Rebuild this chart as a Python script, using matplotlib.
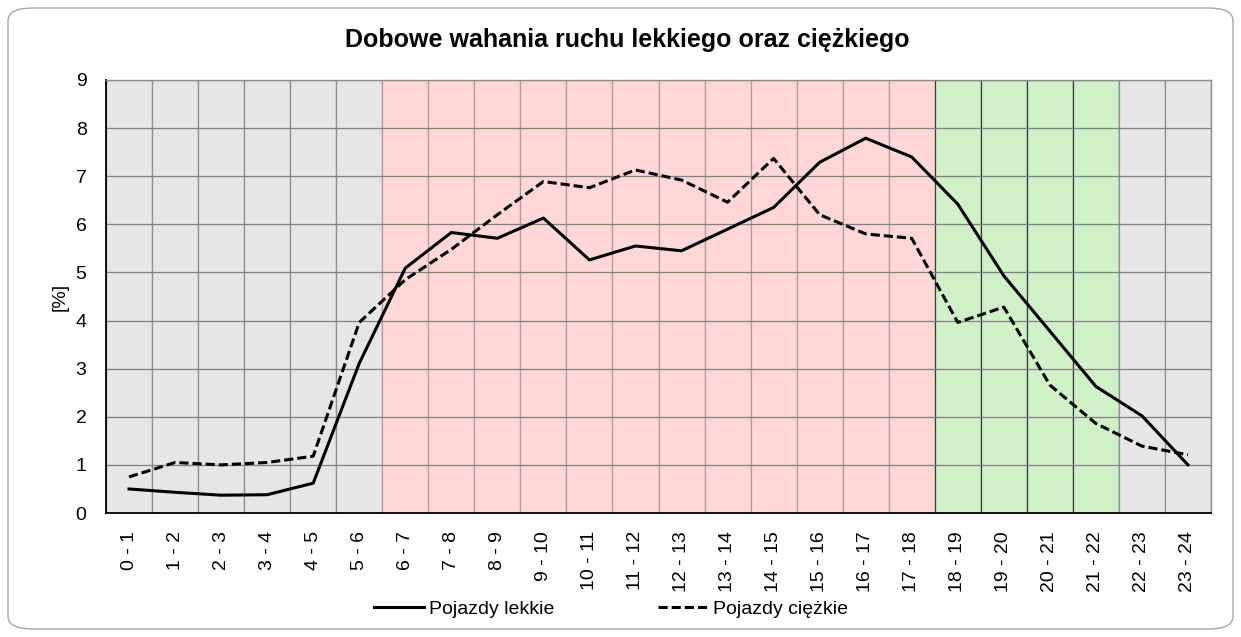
import matplotlib
matplotlib.use("Agg")
import matplotlib.pyplot as plt
from matplotlib.patches import FancyBboxPatch
from matplotlib.lines import Line2D

plt.rcParams['font.family'] = ['Liberation Sans', 'DejaVu Sans']

categories = [f"{h} - {h+1}" for h in range(24)]
light = [0.50, 0.43, 0.37, 0.38, 0.62, 3.11, 5.09, 5.83, 5.71, 6.13, 5.26, 5.55,
         5.45, 5.90, 6.35, 7.29, 7.79, 7.40, 6.42, 4.93, 3.78, 2.63, 2.02, 1.00]
heavy = [0.75, 1.05, 1.00, 1.05, 1.18, 3.96, 4.85, 5.48, 6.20, 6.89, 6.76, 7.13,
         6.92, 6.46, 7.37, 6.20, 5.80, 5.71, 3.96, 4.28, 2.66, 1.86, 1.39, 1.21]
# background band per hour: night / day / evening
bands = ['n'] * 6 + ['d'] * 12 + ['e'] * 4 + ['n'] * 2
band_fill = {'n': '#e6e6e6', 'd': '#ffd7d7', 'e': '#d0f0c8'}
band_edge = {'n': '#8c8c8c', 'd': '#b39a9a', 'e': '#3a3a3a'}

DASH = (0, (3.0, 1.3))
FS = 14

W, H = 1241, 637
fig = plt.figure(figsize=(W / 100, H / 100), dpi=100)
fig.patches.append(FancyBboxPatch((8 / W, 8 / H), (W - 16) / W, (H - 16) / H,
                                  boxstyle="round,pad=0,rounding_size=0.02",
                                  transform=fig.transFigure, fill=False,
                                  edgecolor='#a6a6a6', linewidth=1.0))
ax = fig.add_axes([106 / W, 1 - 513 / H, (1211 - 106) / W, (513 - 80) / H])

x = list(range(len(categories)))
ax.bar(x, [9] * len(x), width=1.0,
       color=[band_fill[b] for b in bands],
       edgecolor=[band_edge[b] for b in bands], linewidth=0.9, zorder=0)
for yv in range(1, 9):
    ax.axhline(yv, color='#808080', linewidth=0.9, zorder=1)

ax.plot(x, light, color='black', linewidth=2.2, zorder=3, label='Pojazdy lekkie')
ax.plot(x, heavy, color='black', linewidth=2.2, linestyle=DASH,
        zorder=3, label='Pojazdy ciężkie')

ax.set_xlim(-0.5, 23.5)
ax.set_ylim(0, 9)
ax.set_yticks(range(0, 10))
ax.set_xticks(x)
ax.set_xticklabels(categories, rotation=90, fontsize=FS)
ax.tick_params(axis='both', length=0, labelsize=FS)
ax.tick_params(axis='y', pad=14)
ax.tick_params(axis='x', pad=13)
ax.set_ylabel('[%]', fontsize=FS, labelpad=5)

for s in ['top', 'right']:
    ax.spines[s].set_color('#8c8c8c')
    ax.spines[s].set_linewidth(1.0)
for s in ['left', 'bottom']:
    ax.spines[s].set_color('black')
    ax.spines[s].set_linewidth(1.3)

fig.text(627 / W, 1 - 40 / H, 'Dobowe wahania ruchu lekkiego oraz ciężkiego',
         ha='center', va='center', fontsize=18, fontweight='bold')

handles = [Line2D([], [], color='black', linewidth=2.2),
           Line2D([], [], color='black', linewidth=2.2, linestyle=DASH)]
fig.legend(handles, ['Pojazdy lekkie', 'Pojazdy ciężkie'], loc='center',
           bbox_to_anchor=(611 / W, 1 - 609 / H), ncol=2, frameon=False,
           fontsize=FS, handlelength=2.6, handletextpad=0.25, columnspacing=5.3,
           borderpad=0, borderaxespad=0)

fig.savefig('out.png', dpi=100)
